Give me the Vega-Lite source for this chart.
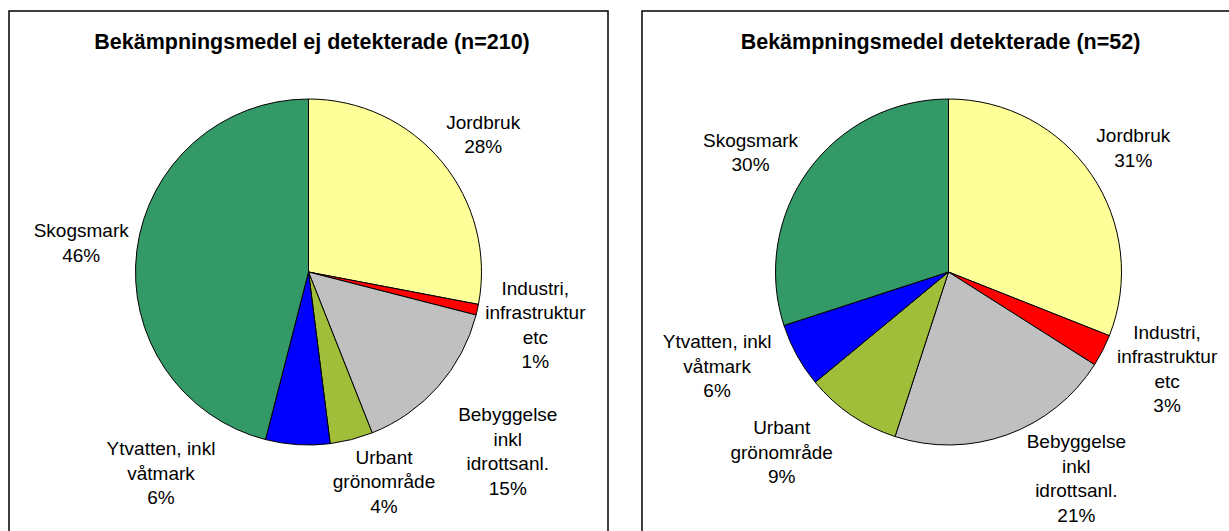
{
  "$schema": "https://vega.github.io/schema/vega-lite/v6.json",
  "padding": {"left": 8, "top": 10, "right": 0, "bottom": 0},
  "spacing": 32,
  "config": {
    "view": {"stroke": "#000000", "strokeWidth": 1.5},
    "style": {"view": {"stroke": "#000000", "strokeWidth": 1.5}},
    "font": "Liberation Sans"
  },
  "datasets": {
    "ej": [
      {"order": 1, "category": "Jordbruk", "value": 28, "label": "Jordbruk\n28%"},
      {"order": 2, "category": "Industri, infrastruktur etc", "value": 1, "label": "Industri,\ninfrastruktur\netc\n1%"},
      {"order": 3, "category": "Bebyggelse inkl idrottsanl.", "value": 15, "label": "Bebyggelse\ninkl\nidrottsanl.\n15%"},
      {"order": 4, "category": "Urbant grönområde", "value": 4, "label": "Urbant\ngrönområde\n4%"},
      {"order": 5, "category": "Ytvatten, inkl våtmark", "value": 6, "label": "Ytvatten, inkl\nvåtmark\n6%"},
      {"order": 6, "category": "Skogsmark", "value": 46, "label": "Skogsmark\n46%"}
    ],
    "det": [
      {"order": 1, "category": "Jordbruk", "value": 31, "label": "Jordbruk\n31%"},
      {"order": 2, "category": "Industri, infrastruktur etc", "value": 3, "label": "Industri,\ninfrastruktur\netc\n3%"},
      {"order": 3, "category": "Bebyggelse inkl idrottsanl.", "value": 21, "label": "Bebyggelse\ninkl\nidrottsanl.\n21%"},
      {"order": 4, "category": "Urbant grönområde", "value": 9, "label": "Urbant\ngrönområde\n9%"},
      {"order": 5, "category": "Ytvatten, inkl våtmark", "value": 6, "label": "Ytvatten, inkl\nvåtmark\n6%"},
      {"order": 6, "category": "Skogsmark", "value": 30, "label": "Skogsmark\n30%"}
    ]
  },
  "hconcat": [
    {
      "width": 599,
      "height": 522,
      "view": {"stroke": "#000000", "strokeWidth": 1.5},
      "data": {"name": "ej"},
      "title": {
        "text": "Bekämpningsmedel ej detekterade (n=210)",
        "fontSize": 21.5,
        "fontWeight": "bold",
        "font": "Liberation Sans",
        "color": "#000000",
        "anchor": "middle",
        "frame": "group",
        "baseline": "alphabetic",
        "offset": -59,
        "dx": 3.5
      },
      "layer": [
        {
          "mark": {"type": "arc", "radius": 173, "stroke": "#000000", "strokeWidth": 1},
          "encoding": {
            "theta": {"field": "value", "type": "quantitative", "stack": true},
            "order": {"field": "order", "type": "quantitative", "sort": "ascending"},
            "color": {
              "field": "category",
              "type": "nominal",
              "legend": null,
              "scale": {
                "domain": ["Jordbruk", "Industri, infrastruktur etc", "Bebyggelse inkl idrottsanl.", "Urbant grönområde", "Ytvatten, inkl våtmark", "Skogsmark"],
                "range": ["#FFFF99", "#FF0000", "#C0C0C0", "#A0BE3A", "#0000FF", "#339966"]
              }
            }
          }
        },
        {
          "mark": {
            "type": "text",
            "radius": 215,
            "font": "Liberation Sans",
            "fontSize": 19,
            "lineHeight": 24.5,
            "lineBreak": "\n",
            "align": "center",
            "baseline": "middle",
            "color": "#000000",
            "dx": {"expr": "datum.order == 1 ? 9 : datum.order == 2 ? 17 : datum.order == 3 ? 38 : datum.order == 4 ? 22 : datum.order == 5 ? -134 : -14"},
            "dy": {"expr": "datum.order == 1 ? -12 : datum.order == 2 ? -30 : datum.order == 3 ? 1 : datum.order == 4 ? -22.5 : datum.order == 5 ? -37.5 : -14"}
          },
          "encoding": {
            "theta": {"field": "value", "type": "quantitative", "stack": true},
            "order": {"field": "order", "type": "quantitative", "sort": "ascending"},
            "text": {"field": "label", "type": "nominal"}
          }
        }
      ]
    },
    {
      "width": 613,
      "height": 522,
      "view": {"stroke": "#000000", "strokeWidth": 1.5},
      "data": {"name": "det"},
      "title": {
        "text": "Bekämpningsmedel detekterade (n=52)",
        "fontSize": 21.5,
        "fontWeight": "bold",
        "font": "Liberation Sans",
        "color": "#000000",
        "anchor": "middle",
        "frame": "group",
        "baseline": "alphabetic",
        "offset": -59,
        "dx": -8
      },
      "layer": [
        {
          "mark": {"type": "arc", "radius": 173, "stroke": "#000000", "strokeWidth": 1},
          "encoding": {
            "theta": {"field": "value", "type": "quantitative", "stack": true},
            "order": {"field": "order", "type": "quantitative", "sort": "ascending"},
            "color": {
              "field": "category",
              "type": "nominal",
              "legend": null,
              "scale": {
                "domain": ["Jordbruk", "Industri, infrastruktur etc", "Bebyggelse inkl idrottsanl.", "Urbant grönområde", "Ytvatten, inkl våtmark", "Skogsmark"],
                "range": ["#FFFF99", "#FF0000", "#C0C0C0", "#A0BE3A", "#0000FF", "#339966"]
              }
            }
          }
        },
        {
          "mark": {
            "type": "text",
            "radius": 215,
            "font": "Liberation Sans",
            "fontSize": 19,
            "lineHeight": 24.5,
            "lineBreak": "\n",
            "align": "center",
            "baseline": "middle",
            "color": "#000000",
            "dx": {"expr": "datum.order == 1 ? 7 : datum.order == 2 ? 27 : datum.order == 3 ? 55 : datum.order == 4 ? -46 : datum.order == 5 ? -43 : -24"},
            "dy": {"expr": "datum.order == 1 ? -15 : datum.order == 2 ? -37 : datum.order == 3 ? -32 : datum.order == 4 ? -21.5 : datum.order == 5 ? -33.5 : -5"}
          },
          "encoding": {
            "theta": {"field": "value", "type": "quantitative", "stack": true},
            "order": {"field": "order", "type": "quantitative", "sort": "ascending"},
            "text": {"field": "label", "type": "nominal"}
          }
        }
      ]
    }
  ]
}
